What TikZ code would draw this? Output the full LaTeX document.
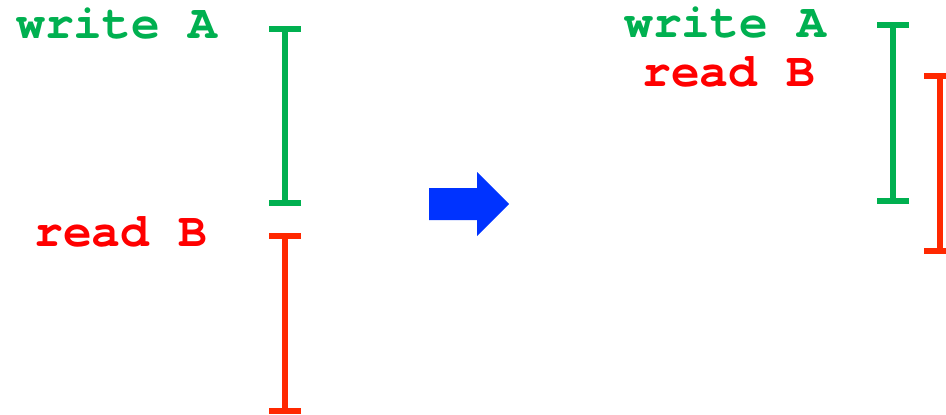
\documentclass[tikz,border=0pt]{standalone}
\usepackage{fontspec}
\setmonofont{TeX Gyre Cursor}
\usetikzlibrary{arrows.meta}
\definecolor{opgreen}{RGB}{0,176,80}
\definecolor{opred}{RGB}{255,0,0}
\definecolor{barred}{RGB}{255,40,0}
\definecolor{movblue}{RGB}{0,51,255}

\begin{document}
\begin{tikzpicture}[x=1pt,y=-1pt,
  op/.style={anchor=base west,inner sep=0pt,font=\fontsize{48}{50}\selectfont\ttfamily\bfseries},
  span/.style={line width=6pt,{Bar[width=32pt,line width=6pt]}-{Bar[width=32pt,line width=6pt]}}]
\clip (0,0) rectangle (946,415);
\useasboundingbox (0,0) rectangle (946,415);
% before
\node[op,text=opgreen] (wA1) at (16,38) {write A};
\node[op,text=opred] (rB1) at (34,246) {read B};
\coordinate (wA1s) at (285,26);
\coordinate (wA1e) at (285,206);
\coordinate (rB1s) at (285,233);
\coordinate (rB1e) at (285,414);
\draw[span,opgreen] (wA1s) -- (wA1e);
\draw[span,barred] (rB1s) -- (rB1e);
% arrow
\fill[movblue] (429,188) -- (477,188) -- (477,172) -- (509,204)
  -- (477,236) -- (477,220) -- (429,220) -- cycle;
% after
\node[op,text=opgreen] (wA2) at (624,37) {write A};
\node[op,text=opred] (rB2) at (642,86) {read B};
\coordinate (wA2s) at (893,22);
\coordinate (wA2e) at (893,204);
\coordinate (rB2s) at (940,73);
\coordinate (rB2e) at (940,254);
\draw[span,opgreen] (wA2s) -- (wA2e);
\draw[span,barred] (rB2s) -- (rB2e);
\end{tikzpicture}
\end{document}
